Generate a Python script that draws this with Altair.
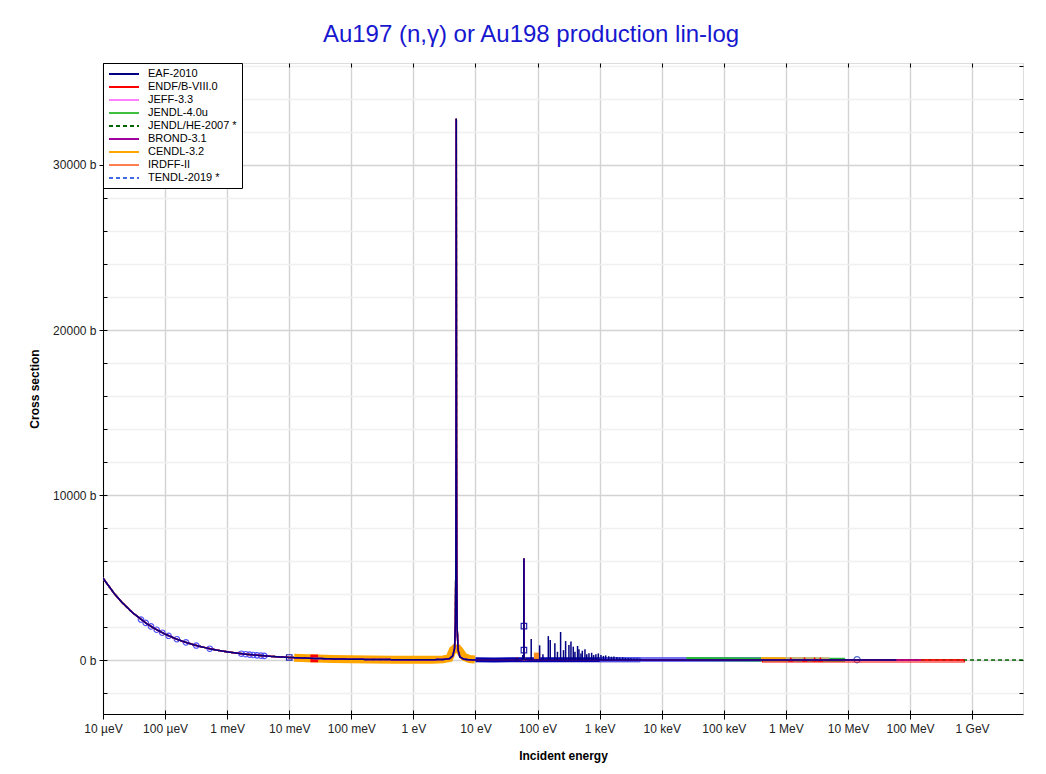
import altair as alt
import pandas as pd

# ---------------- data ----------------
libs = ["EAF-2010", "ENDF/B-VIII.0", "JEFF-3.3", "JENDL-4.0u", "JENDL/HE-2007 *",
        "BROND-3.1", "CENDL-3.2", "IRDFF-II", "TENDL-2019 *"]
lib_colors = ["#000080", "#ff0000", "#ff80ff", "#40c040", "#006400",
              "#a000a0", "#ffa500", "#ff7f50", "#4169e1"]
lib_dash = [[1, 0], [1, 0], [1, 0], [1, 0], [4, 3], [1, 0], [1, 0], [1, 0], [4, 3]]
lib_emax = [6e7, 7.5e8, 2e7, 2e7, 6.6e9, 1.5e8, 2e7, 6e7, 2e8]
draw_order = [8, 7, 6, 4, 3, 2, 1, 5, 0]

# evaluated cross section (eV, barn)
E_lib = [1e-5, 1.5e-5, 2e-5, 3e-5, 5e-5, 7e-5, 1e-4, 1.5e-4, 2e-4, 3e-4, 5e-4, 7e-4,
         1e-3, 2e-3, 5e-3, 1e-2, 2.53e-2, 5e-2, 0.1, 0.2, 0.5, 1.0, 2.0, 3.0, 3.8,
         4.3, 4.6, 4.75, 4.83, 4.87, 4.895, 4.906, 4.917, 4.94, 4.98, 5.06, 5.25,
         5.6, 6.5, 8.0, 10, 15, 25, 40, 46.4, 46.6, 46.8, 55, 57.8, 58.0, 58.2,
         59.9, 60.1, 60.3, 60.5, 60.7, 63, 70, 100, 300, 1e3, 3e3, 1e4, 3e4, 1e5,
         3e5, 1e6, 3e6, 1e7, 2e7, 6e7, 1.5e8, 2e8, 7.5e8, 3e9, 6.6e9]
S_lib = [4965, 4054, 3511, 2866, 2220, 1877, 1570, 1282, 1110, 906, 702, 593,
         496, 351, 222, 157, 98.7, 70, 50, 36, 23, 18, 20, 33, 80,
         250, 700, 2200, 6000, 13000, 26000, 32800, 26000, 13000, 5500, 2000, 600,
         200, 50, 12, 5, 2, 1.5, 3, 5, 150, 5, 8, 20, 300, 20,
         200, 1500, 6150, 1500, 200, 20, 5, 3, 2, 2, 1.5, 1, 0.6, 0.3,
         0.15, 0.08, 0.03, 0.01, 0.005, 0.002, 0.001, 0.001, 0.0005, 0.0002, 0.0001]

# unresolved spikes of the resolved resonance region (eV, barn)
res_E = [79, 108, 122, 149, 160, 190, 209, 235, 262, 283, 320, 345, 376, 400,
         441, 464, 500, 526, 580, 620, 673, 743, 800, 870, 952, 1050, 1150, 1250,
         1400, 1550, 1700, 1900, 2100, 2350, 2600, 2900, 3200, 3600, 4000, 4500]
res_S = [1270, 890, 350, 1450, 1210, 1010, 500, 1700, 600, 1150, 910, 1130, 810, 500,
         850, 650, 400, 565, 650, 350, 405, 440, 300, 350, 400, 300, 250, 280,
         230, 200, 220, 180, 150, 160, 130, 120, 110, 100, 90, 80]

# experimental data bands (eV, barn)
band_orange_E = [0.012, 0.02, 0.05, 0.1, 0.2, 0.5, 1.0, 2.0, 3.0, 3.8, 4.3, 4.6, 5.2, 5.6, 6.5, 8.0, 9.8]
band_orange_S = [140, 110, 70, 50, 36, 23, 18, 22, 40, 120, 600, 700, 700, 550, 200, 60, 30]
band_navy_E = [10, 20, 50, 100, 300, 1000, 4500]
band_navy_S = [10, 8, 15, 20, 20, 15, 10]
band_blue_E = [1000, 5000, 20000, 100000, 400000]
band_blue_S = [30, 30, 40, 40, 30]
band_green_E = [25000, 100000, 400000, 1e6, 3e6, 9e6]
band_green_S = [60, 50, 40, 30, 20, 20]
band_tan_E = [400000, 1e6, 2e6, 5e6]
band_tan_S = [70, 60, 60, 50]
band_orng2_E = [400000, 600000, 1e6]
band_orng2_S = [50, 50, 40]

circ_E = [4.09e-5, 4.88e-5, 5.93e-5, 7.32e-5, 9.0e-5, 1.14e-4, 1.55e-4, 2.17e-4, 3.18e-4,
          5.24e-4, 1.69e-3, 1.99e-3, 2.31e-3, 2.64e-3, 3.03e-3, 3.51e-3, 3.97e-3]
circ_S = [2455, 2247, 2039, 1835, 1655, 1470, 1261, 1066, 880,
          686, 382, 352, 327, 306, 285, 265, 249]
tri_E = [1.2e6, 2.0e6, 2.9e6, 3.6e6]
tri_S = [40, 40, 40, 40]
sq_red_E = [0.0253]
sq_red_S = [99]
sq_navy_E = [0.01, 60.3, 60.3]
sq_navy_S = [156, 600, 2060]
sq_orange_E = [98]
sq_orange_S = [260]
circ14_E = [1.4e7]
circ14_S = [20]
endf_band = {"E1": [4.2e5], "E2": [7.5e8], "S1": [-120], "S2": [10]}

x_ticks = [1e-5, 1e-4, 1e-3, 1e-2, 1e-1, 1, 10, 100, 1e3, 1e4, 1e5, 1e6, 1e7, 1e8, 1e9]
x_labels = ["10 µeV", "100 µeV", "1 meV", "10 meV", "100 meV", "1 eV", "10 eV", "100 eV",
            "1 keV", "10 keV", "100 keV", "1 MeV", "10 MeV", "100 MeV", "1 GeV"]
y_major = [0, 10000, 20000, 30000]
y_all = list(range(-2000, 36001, 2000))
y_minor = [v for v in y_all if v not in y_major]

X_DOMAIN = [1e-5, 6.6e9]
Y_DOMAIN = [-3270, 36180]
W, H = 920, 651
FONT = "Liberation Sans"

# ---------------- tables ----------------
rows = []
for i in draw_order:
    for e, s in zip(E_lib, S_lib):
        if e <= lib_emax[i]:
            rows.append({"lib": libs[i], "E": e, "S": s})
lib_df = pd.DataFrame(rows)
res_df = pd.DataFrame({"E": res_E, "S": res_S, "B": [0] * len(res_E)})

xs = alt.Scale(type="log", domain=X_DOMAIN, nice=False)
ys = alt.Scale(domain=Y_DOMAIN, nice=False, zero=False)

label_expr = "[" + ",".join("'%s'" % l for l in x_labels) + "][round(log(datum.value)/LN10)+5]"

ax_x = alt.Axis(orient="bottom", values=x_ticks, labelExpr=label_expr, title="Incident energy",
                grid=True, gridColor="#d3d3d3", gridWidth=1.4, tickSize=5, tickColor="black",
                domainColor="black", labelFont=FONT, labelFontSize=12, labelColor="#222",
                labelPadding=4, titleFont=FONT, titleFontSize=12, titleFontWeight="bold",
                titleColor="black", titlePadding=16, labelFlush=False)
ax_y = alt.Axis(orient="left", values=y_major, labelExpr="datum.value + ' b'",
                title="Cross section", grid=True, gridColor="#d3d3d3", gridWidth=1.4,
                tickSize=4, tickColor="black", domainColor="black", labelFont=FONT,
                labelFontSize=12, labelColor="#222", labelPadding=3, titleFont=FONT,
                titleFontSize=12, titleFontWeight="bold", titleColor="black", titlePadding=11)

legend = alt.Legend(title=None, orient="none", legendX=0, legendY=0, direction="vertical",
                    symbolType="M-1,0H5", symbolSize=100, symbolStrokeWidth=2,
                    labelFont=FONT, labelFontSize=11, labelColor="black", labelOffset=28,
                    padding=5, strokeColor="black", fillColor="white", rowPadding=2,
                    cornerRadius=0, labelLimit=300)

lines = alt.Chart(lib_df).mark_line(strokeWidth=1.5, clip=True).encode(
    x=alt.X("E:Q", scale=xs, axis=ax_x),
    y=alt.Y("S:Q", scale=ys, axis=ax_y),
    color=alt.Color("lib:N", scale=alt.Scale(domain=libs, range=lib_colors), legend=legend),
    strokeDash=alt.StrokeDash("lib:N", scale=alt.Scale(domain=libs, range=lib_dash), legend=legend),
)

spikes = alt.Chart(res_df).mark_rule(color="#000080", strokeWidth=1.5, clip=True).encode(
    x=alt.X("E:Q", scale=xs, axis=None),
    y=alt.Y("S:Q", scale=ys, axis=None),
    y2="B:Q",
)


def band(E, S, color, width, opacity=1.0):
    return alt.Chart(pd.DataFrame({"E": E, "S": S})).mark_line(
        color=color, strokeWidth=width, opacity=opacity, clip=True).encode(
        x=alt.X("E:Q", scale=xs, axis=None), y=alt.Y("S:Q", scale=ys, axis=None))


def pts(E, S, shape, color, size, filled, opacity=1.0):
    return alt.Chart(pd.DataFrame({"E": E, "S": S})).mark_point(
        shape=shape, color=color, size=size, filled=filled, opacity=opacity,
        strokeWidth=1.2, clip=True).encode(
        x=alt.X("E:Q", scale=xs, axis=None), y=alt.Y("S:Q", scale=ys, axis=None))


bands = [
    band(band_orange_E, band_orange_S, "#ffa500", 8),
    band(band_navy_E, band_navy_S, "#0000b0", 5),
    band(band_blue_E, band_blue_S, "#5b5bf0", 5, 0.85),
    band(band_green_E, band_green_S, "#22bb33", 4),
    band(band_tan_E, band_tan_S, "#c8b878", 4),
    band(band_orng2_E, band_orng2_S, "#ffa500", 4),
]
markers = [
    pts(circ_E, circ_S, "circle", "#5050ff", 30, False),
    pts(tri_E, tri_S, "triangle-up", "#ff0000", 30, True),
    pts(sq_red_E, sq_red_S, "square", "#ff0000", 60, True),
    pts(sq_navy_E, sq_navy_S, "square", "#2020b0", 30, False),
    pts(sq_orange_E, sq_orange_S, "square", "#ff9020", 40, True),
    pts(circ14_E, circ14_S, "circle", "#4f6fd0", 40, False),
]

endf_rect = alt.Chart(pd.DataFrame(endf_band)).mark_rect(
    fillOpacity=0, stroke="#ff0000", strokeWidth=1.2, clip=True).encode(
    x=alt.X("E1:Q", scale=xs, axis=None), x2="E2:Q",
    y=alt.Y("S1:Q", scale=ys, axis=None), y2="S2:Q")

dummy = pd.DataFrame({"E": [1.0], "S": [0.0]})
minor_grid = alt.Chart(dummy).mark_point(opacity=0).encode(
    x=alt.X("E:Q", scale=xs, axis=None),
    y=alt.Y("S:Q", scale=ys, axis=alt.Axis(orient="left", values=y_minor, grid=True,
                                           gridColor="#f0f0f0", gridWidth=1.3, ticks=False,
                                           labels=False, domain=False, title=None)))
ticks_a = alt.Chart(dummy).mark_point(opacity=0).encode(
    x=alt.X("E:Q", scale=xs, axis=alt.Axis(orient="top", offset=-H, values=x_ticks,
                                           labels=False, domain=False, grid=False,
                                           tickSize=4, tickColor="black", title=None)),
    y=alt.Y("S:Q", scale=ys, axis=alt.Axis(orient="right", offset=-W, values=y_all,
                                           labels=False, domain=False, grid=False,
                                           tickSize=4, tickColor="black", title=None)))
ticks_b = alt.Chart(dummy).mark_point(opacity=0).encode(
    x=alt.X("E:Q", scale=xs, axis=alt.Axis(orient="bottom", offset=-H, values=x_ticks,
                                           labels=False, domain=False, grid=False,
                                           tickSize=4, tickColor="black", title=None)),
    y=alt.Y("S:Q", scale=ys, axis=alt.Axis(orient="left", offset=-W, values=y_all,
                                           labels=False, domain=False, grid=False,
                                           tickSize=4, tickColor="black", title=None)))

chart = alt.layer(
    minor_grid, *bands, *markers, endf_rect, lines, spikes, ticks_a, ticks_b
).resolve_axis(x="independent", y="independent").properties(
    width=W, height=H,
    autosize=alt.AutoSizeParams(type="none"),
    padding={"left": 95, "top": 55, "right": 15, "bottom": 52},
    title=alt.TitleParams("Au197 (n,γ) or Au198 production lin-log", font=FONT, fontSize=24,
                          fontWeight="normal", color="#1717cf", anchor="middle", dx=-32,
                          offset=-3, baseline="alphabetic"),
).configure_view(stroke="black", strokeWidth=1.5).configure(background="white")

chart.save("out.html", embed_options={"renderer": "svg", "actions": False})
